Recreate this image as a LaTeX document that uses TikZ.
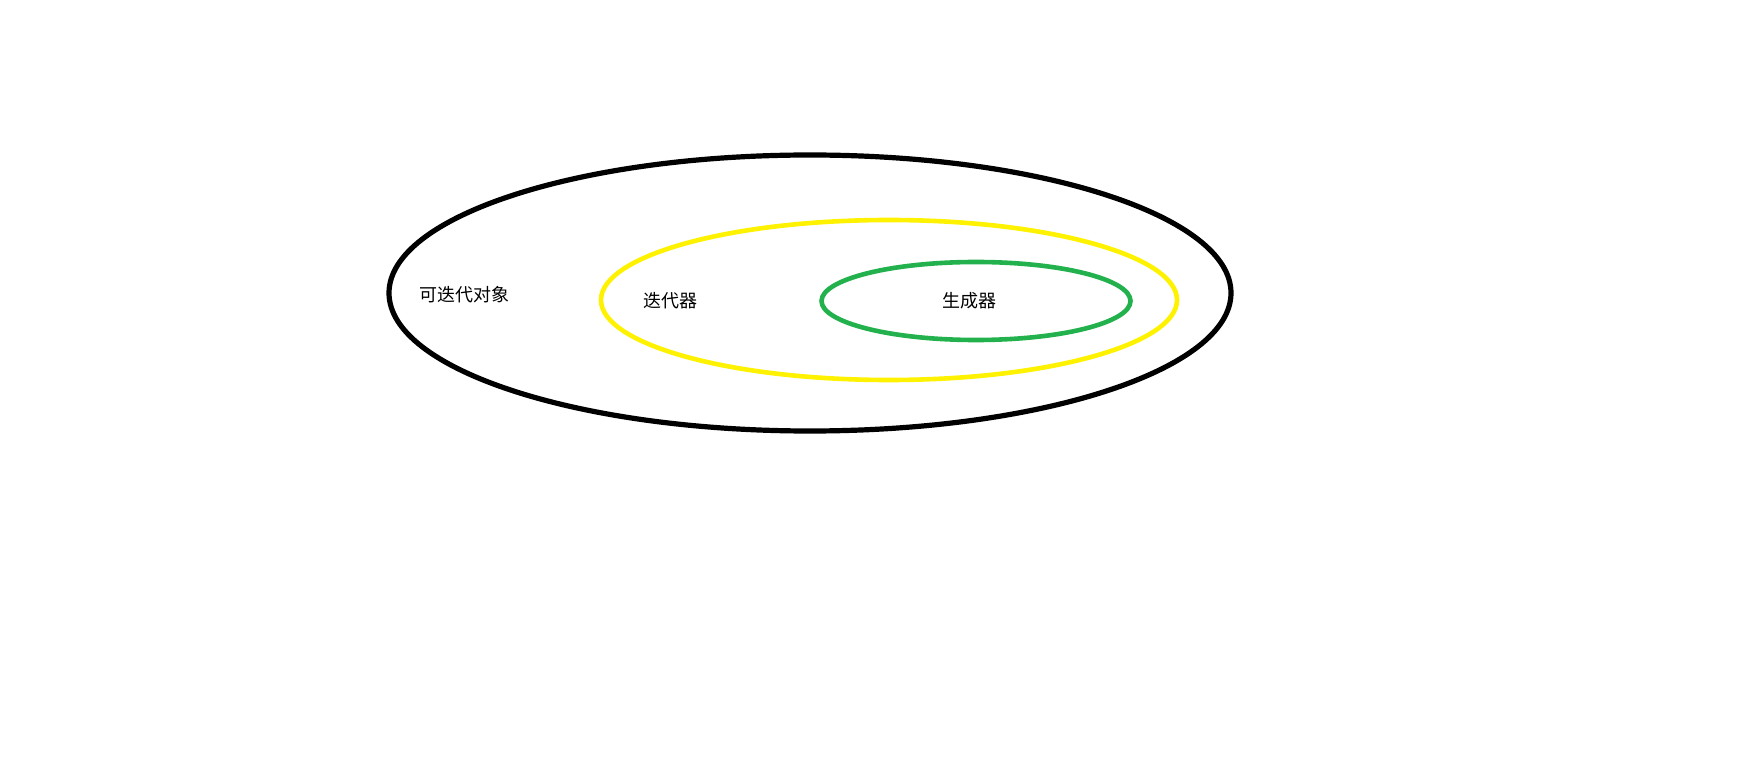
\documentclass[tikz,border=0pt]{standalone}
\usepackage{fontspec}
\newfontfamily\cjk{Noto Sans CJK SC}
\usetikzlibrary{shapes.geometric}
\definecolor{paintyellow}{HTML}{FFF200}
\definecolor{paintgreen}{HTML}{22B14C}
\tikzset{set/.style={ellipse, draw, inner sep=0pt, line width=2.3pt}}
\tikzset{setlabel/.style={font=\cjk\fontsize{9}{10}\selectfont, inner sep=0pt}}

\begin{document}
\begin{tikzpicture}[x=0.5pt, y=-0.5pt]
      \useasboundingbox (0, 0) rectangle (1758, 770);

      \node[set, black, line width=2.6pt, minimum width=421pt, minimum height=138pt] (iterable) at (810, 293) {};
      \node[set, paintyellow, minimum width=288pt, minimum height=80pt] (iterator) at (889, 300) {};
      \node[set, paintgreen, minimum width=154.5pt, minimum height=39pt] (generator) at (976, 301) {};

      \node[setlabel] (iterablelabel) at (464, 295) {可迭代对象};
      \node[setlabel] (iteratorlabel) at (670, 301) {迭代器};
      \node[setlabel] (generatorlabel) at (969, 301) {生成器};

    \end{tikzpicture}
\end{document}
